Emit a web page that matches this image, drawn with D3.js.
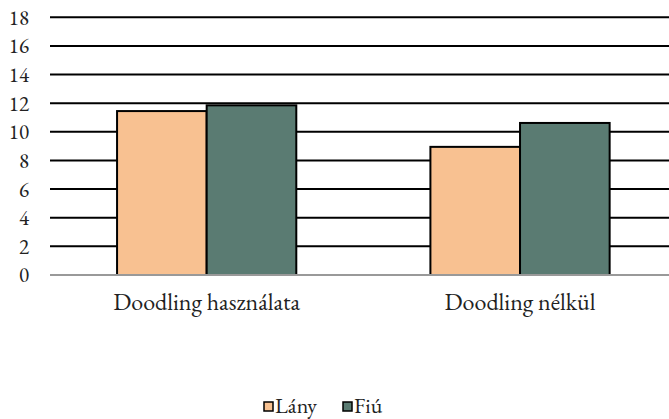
<!DOCTYPE html>
<html>
<head>
<meta charset="utf-8">
<script src="https://cdn.jsdelivr.net/npm/d3@7"></script>
<style>
  html, body { margin: 0; padding: 0; background: #fff; }
  svg { display: block; }
</style>
</head>
<body>
<svg id="chart" width="669" height="419"></svg>
<script>
const categories = ["Doodling használata", "Doodling nélkül"];
const seriesNames = ["Lány", "Fiú"];
const lanyValues = [11.45, 8.95];
const fiuValues = [11.85, 10.62];
const yTicks = [0, 2, 4, 6, 8, 10, 12, 14, 16, 18];
const colors = ["#F8C191", "#5A7B72"];

const FONT = '"EB Garamond", Garamond, "Liberation Serif", serif';
const svg = d3.select("#chart");
const W = 669, H = 419;
const mLeft = 50, mRight = 676.7, mTop = 17.3, mBottom = 275;

const x0 = d3.scaleBand().domain(categories).range([mLeft, mRight]).paddingInner(0.428).paddingOuter(0.214);
const x1 = d3.scaleBand().domain(seriesNames).range([0, x0.bandwidth()]);
const y = d3.scaleLinear().domain([0, 18]).range([mBottom, mTop]);

// gridlines
svg.append("g").selectAll("line").data(yTicks.filter(d => d > 0)).join("line")
  .attr("x1", mLeft).attr("x2", W)
  .attr("y1", d => y(d)).attr("y2", d => y(d))
  .attr("stroke", "#000").attr("stroke-width", 2);

// y axis labels
const yAxis = d3.axisLeft(y).tickValues(yTicks).tickSize(0).tickPadding(0).tickFormat(d3.format("d"));
const gy = svg.append("g").attr("transform", `translate(29,0)`).call(yAxis);
gy.attr("font-family", null).attr("font-size", null);
gy.select(".domain").remove();
gy.selectAll("text")
  .style("font-family", FONT).style("font-size", "21px")
  .style("font-variant-numeric", "lining-nums")
  .attr("fill", "#222").attr("text-anchor", "end").attr("dy", "0.33em");

// bars
const data = categories.map((c, i) => ({ cat: c, vals: [
  { s: seriesNames[0], v: lanyValues[i] },
  { s: seriesNames[1], v: fiuValues[i] }
]}));
const groups = svg.append("g").selectAll("g").data(data).join("g")
  .attr("transform", d => `translate(${x0(d.cat)},0)`);
groups.selectAll("rect").data(d => d.vals).join("rect")
  .attr("x", d => x1(d.s))
  .attr("y", d => y(d.v))
  .attr("width", x1.bandwidth())
  .attr("height", d => y(0) - y(d.v))
  .attr("fill", (d, i) => colors[i])
  .attr("stroke", "#000").attr("stroke-width", 2);

// zero axis line
svg.append("line").attr("x1", mLeft).attr("x2", W).attr("y1", y(0)).attr("y2", y(0))
  .attr("stroke", "#999").attr("stroke-width", 2);

// x axis labels
const xAxis = d3.axisBottom(x0).tickSize(0).tickPadding(0);
const gx = svg.append("g").attr("transform", `translate(0,${mBottom})`).call(xAxis);
gx.attr("font-family", null).attr("font-size", null);
gx.select(".domain").remove();
gx.selectAll("text").style("font-family", FONT).style("font-size", "24px")
  .attr("fill", "#222").attr("dy", 0).attr("y", 35);

// legend
const legend = svg.append("g");
const legendItems = [
  { name: seriesNames[0], color: colors[0], x: 264 },
  { name: seriesNames[1], color: colors[1], x: 343 }
];
const li = legend.selectAll("g").data(legendItems).join("g")
  .attr("transform", d => `translate(${d.x},402)`);
li.append("rect").attr("width", 9).attr("height", 9).attr("fill", d => d.color).attr("stroke", "#000").attr("stroke-width", 1.5);
li.append("text").attr("x", 11).attr("y", 10.5).style("font-family", FONT).style("font-size", "22px").attr("fill", "#222").text(d => d.name);
</script>
</body>
</html>
